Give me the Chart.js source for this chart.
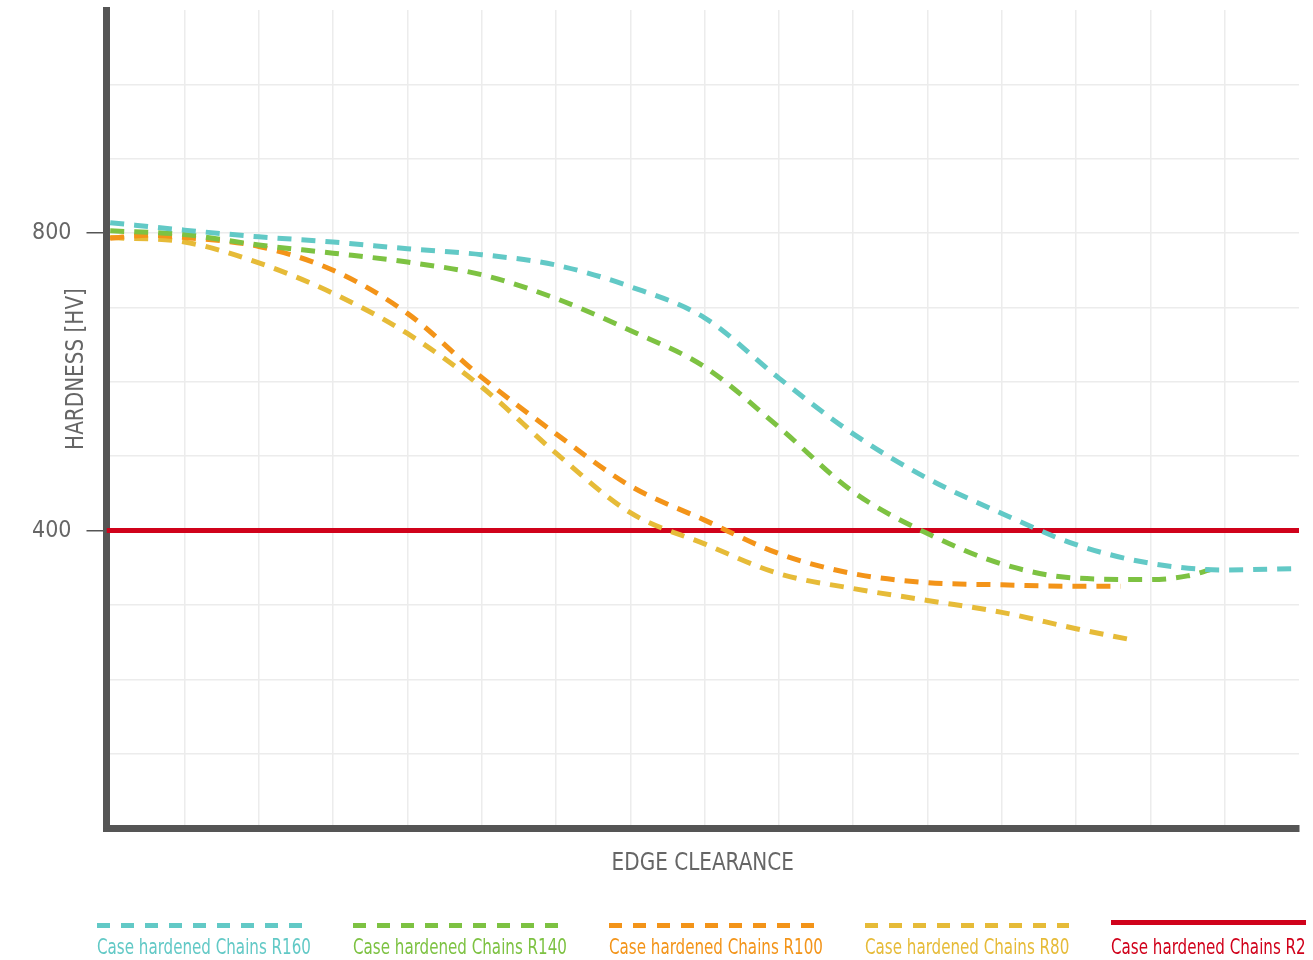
<!DOCTYPE html>
<html>
<head>
<meta charset="utf-8">
<script src="https://cdn.jsdelivr.net/npm/chart.js@4.4.1/dist/chart.umd.min.js"></script>
<style>
  html, body { margin: 0; padding: 0; background: #fff; }
  #wrap { position: relative; width: 1313px; height: 960px; overflow: hidden; }
  #legend {
    position: absolute; left: 97px; top: 923px;
    display: flex; gap: 42px;
    font-family: 'DejaVu Sans Condensed', 'DejaVu Sans', sans-serif;
    font-size: 21px; line-height: 21px;
  }
  .item { display: flex; flex-direction: column; }
  .sample { height: 5px; }
  .label { margin-top: 9px; white-space: nowrap; transform-origin: left center; }
</style>
</head>
<body>
<div id="wrap">
  <canvas id="chart" width="1313" height="960"></canvas>
  <div id="legend"></div>
</div>
<script>
const FONT = "'DejaVu Sans Condensed', 'DejaVu Sans', sans-serif";
const LEGEND_SQUEEZE = 0.8;
const TITLE_SQUEEZE = 0.89;

// edge clearance positions (grid units) and hardness values [HV]
const r160X = [0, 1, 2, 3, 4, 5, 6, 7, 8, 9, 10, 11, 12, 13, 14, 15, 16];
const r160Y = [814, 804, 795, 788, 779, 771, 757, 728, 686, 605, 530, 470, 423, 381, 356, 347, 349];

const r140X = [0, 1, 2, 3, 4, 5, 6, 7, 8, 9, 10, 11, 12, 13, 14, 14.5, 14.8];
const r140Y = [803, 798, 784, 773, 761, 744, 712, 669, 620, 539, 452, 396, 355, 336, 334, 339, 347];

const r100X = [0, 0.5, 1, 2, 3, 4, 5, 6, 7, 8, 9, 10, 11, 12, 13, 13.6];
const r100Y = [793, 797, 794, 782, 750, 692, 606, 530, 460, 414, 369, 342, 330, 327, 325, 325];

const r80X = [0, 1, 2, 3, 4, 5, 6, 7, 8, 9, 10, 11, 12, 13, 13.75];
const r80Y = [794, 788, 760, 719, 665, 593, 504, 424, 382, 342, 322, 306, 290, 268, 253];

const r2X = [-0.05, 16];
const r2Y = [400, 400];

const labels = [
  "Case hardened Chains R160",
  "Case hardened Chains R140",
  "Case hardened Chains R100",
  "Case hardened Chains R80",
  "Case hardened Chains R2"
];
const colors = ["#62c9c6", "#7dc242", "#f39419", "#e6bb38", "#d0021b"];
const dashed = [true, true, true, true, false];

const yLabelTicks = [400, 800];

function toPoints(xs, ys) {
  return xs.map((x, i) => ({ x: x, y: ys[i] }));
}

const series = [
  toPoints(r160X, r160Y),
  toPoints(r140X, r140Y),
  toPoints(r100X, r100Y),
  toPoints(r80X, r80Y),
  toPoints(r2X, r2Y)
];

const datasets = series.map((data, i) => ({
  label: labels[i],
  data: data,
  borderColor: colors[i],
  borderWidth: 5,
  borderDash: dashed[i] ? [14, 10] : [],
  pointRadius: 0,
  fill: false,
  cubicInterpolationMode: "monotone"
}));

function squeezedText(ctx, text, x, y) {
  ctx.save();
  ctx.translate(x, y);
  ctx.scale(TITLE_SQUEEZE, 1);
  ctx.fillText(text, 0, 0);
  ctx.restore();
}

const axisTitles = {
  id: "axisTitles",
  afterDraw(chart) {
    const ctx = chart.ctx;
    const area = chart.chartArea;
    ctx.save();
    ctx.fillStyle = "#666";
    ctx.font = "25px " + FONT;
    ctx.textAlign = "center";
    ctx.textBaseline = "middle";
    squeezedText(ctx, "EDGE CLEARANCE", (area.left + area.right) / 2, area.bottom + 35);
    ctx.translate(area.left - 30, area.top + 359);
    ctx.rotate(-Math.PI / 2);
    squeezedText(ctx, "HARDNESS [HV]", 0, 0);
    ctx.restore();
  }
};

new Chart(document.getElementById("chart"), {
  type: "line",
  data: { datasets: datasets },
  options: {
    responsive: false,
    animation: false,
    layout: { padding: { top: 10, right: 14, left: 0, bottom: 0 } },
    plugins: {
      legend: { display: false },
      tooltip: { enabled: false }
    },
    scales: {
      x: {
        type: "linear",
        min: -0.05,
        max: 16,
        afterFit(scale) {
          scale.height = 132;
          scale.paddingLeft = 0;
          scale.paddingRight = 0;
        },
        afterBuildTicks(scale) {
          const t = [];
          for (let i = 1; i <= 15; i++) t.push({ value: i });
          scale.ticks = t;
        },
        ticks: { display: false },
        grid: { color: "#ececec", lineWidth: 1.5, drawTicks: false },
        border: { color: "#555555", width: 7 }
      },
      y: {
        min: 0,
        max: 1100,
        afterFit(scale) {
          scale.width = 106.5;
          scale.paddingTop = 0;
          scale.paddingBottom = 0;
        },
        afterBuildTicks(scale) {
          const t = [];
          for (let v = 100; v <= 1000; v += 100) t.push({ value: v });
          scale.ticks = t;
        },
        ticks: {
          padding: 15,
          color: "#666",
          font: { family: FONT, size: 23 },
          callback: (v) => (yLabelTicks.includes(v) ? String(v) : "")
        },
        grid: {
          color: "#ececec",
          lineWidth: 1.5,
          tickLength: 20,
          tickWidth: 1.5,
          tickColor: (c) => (c.tick && yLabelTicks.includes(c.tick.value) ? "#555" : "rgba(0,0,0,0)")
        },
        border: { color: "#555555", width: 7 }
      }
    }
  },
  plugins: [axisTitles]
});

// legend below the chart
const legend = document.getElementById("legend");
const measure = document.createElement("canvas").getContext("2d");
measure.font = "21px " + FONT;
labels.forEach((text, i) => {
  const w = Math.round(measure.measureText(text).width * LEGEND_SQUEEZE);
  const item = document.createElement("div");
  item.className = "item";
  item.style.width = w + "px";
  const sample = document.createElement("div");
  sample.className = "sample";
  if (dashed[i]) {
    sample.style.background =
      `repeating-linear-gradient(to right, ${colors[i]} 0 13px, transparent 13px 24px)`;
  } else {
    sample.style.background = colors[i];
    sample.style.marginTop = "-3px";
    sample.style.marginBottom = "3px";
  }
  const label = document.createElement("div");
  label.className = "label";
  label.style.color = colors[i];
  label.style.transform = `scaleX(${LEGEND_SQUEEZE})`;
  label.textContent = text;
  item.appendChild(sample);
  item.appendChild(label);
  legend.appendChild(item);
});
</script>
</body>
</html>
